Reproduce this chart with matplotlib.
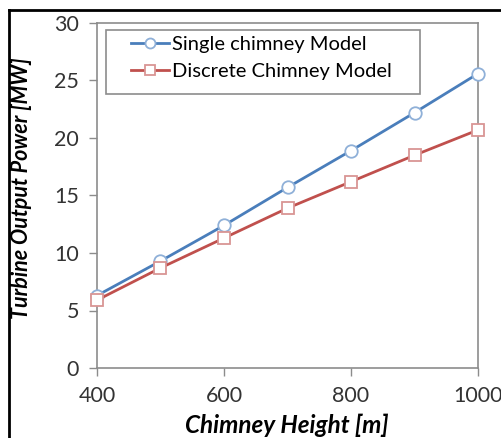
import matplotlib
matplotlib.use("Agg")
import matplotlib.pyplot as plt
from matplotlib.lines import Line2D
from matplotlib.patches import Rectangle

plt.rcParams['font.family'] = ['Lato', 'DejaVu Sans']

heights = [400, 500, 600, 700, 800, 900, 1000]
single = [6.3, 9.3, 12.4, 15.7, 18.9, 22.2, 25.6]
discrete = [5.9, 8.7, 11.3, 13.9, 16.2, 18.5, 20.7]
xticks = [400, 600, 800, 1000]
yticks = [0, 5, 10, 15, 20, 25, 30]

W, H = 501, 438
fig = plt.figure(figsize=(W / 100, H / 100), dpi=100)
ax = fig.add_axes([97 / W, 1 - 368 / H, 381 / W, 345 / H])

blue = '#4a7ebb'
red = '#c0504d'
ax.plot(heights, single, color=blue, lw=2.0, marker='o', ms=9, mfc='white',
        mec='#8fb0d8', mew=1.3, label='Single chimney Model', zorder=3,
        clip_on=False)
ax.plot(heights, discrete, color=red, lw=2.0, marker='s', ms=9, mfc='white',
        mec='#d99594', mew=1.3, label='Discrete Chimney Model', zorder=3,
        clip_on=False)

ax.set_xlim(400, 1000)
ax.set_ylim(0, 30)
ax.set_xticks(xticks)
ax.set_yticks(yticks)
for s in ax.spines.values():
    s.set_color('#8c8c8c')
    s.set_linewidth(1.2)
ax.tick_params(direction='out', color='#8c8c8c', length=6, width=1.0,
               labelsize=15.5, labelcolor='#333333', pad=7)

fig.text(287 / W, 1 - 433 / H, 'Chimney Height [m]', fontsize=17.5,
         fontweight='bold', fontstyle='italic', ha='center', va='baseline')
fig.text(22 / W, 1 - 188 / H, 'Turbine Output Power [MW]', fontsize=15.5,
         fontweight='bold', fontstyle='italic', ha='center', va='center',
         rotation=90)

# legend frame
fig.add_artist(Rectangle((106 / W, 1 - 94 / H), 314 / W, 64 / H,
                         transform=fig.transFigure, fill=False,
                         edgecolor='#8c8c8c', lw=1.2))
leg = ax.legend(loc='upper left', bbox_to_anchor=(131 / W, 1 - 36 / H),
                bbox_transform=fig.transFigure, frameon=False,
                fontsize=14.5, handlelength=1.9, borderpad=0, labelspacing=0.5,
                handletextpad=0.15, borderaxespad=0, markerscale=0.8)

fig.add_artist(Line2D([9 / W, 9 / W], [0, 1 - 10 / H], color='black', lw=2,
                      transform=fig.transFigure))
fig.add_artist(Line2D([9 / W, 1], [1 - 10 / H, 1 - 10 / H], color='black', lw=2,
                      transform=fig.transFigure))

fig.savefig('out.png', dpi=100)
